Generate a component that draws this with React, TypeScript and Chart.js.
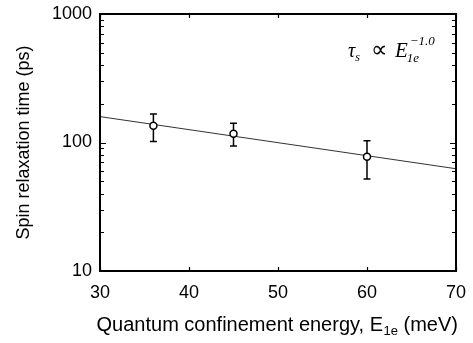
import React, { useEffect, useRef } from "react";
import { Chart, registerables } from "chart.js";

Chart.register(...registerables);

const energies = [36, 45, 60];
const relaxTimes = [135, 117, 77.5];
const errUpper = [167, 141, 103];
const errLower = [102, 94, 52];
const fitX = [30, 70];
const fitY = [159, 62.5];
const yTickValues = [10, 100, 1000];
const xTitleMain = "Quantum confinement energy, E";
const xTitleSub = "1e";
const xTitleTail = " (meV)";
const yTitle = "Spin relaxation time (ps)";

const SANS = "'Liberation Sans', Arial, sans-serif";
const SERIF = "'Liberation Serif', 'Times New Roman', serif";

const decorPlugin = {
  id: "decor",
  beforeDatasetsDraw(chart: any) {
    const ctx = chart.ctx;
    const xs = chart.scales.x;
    const ys = chart.scales.y;
    ctx.save();
    ctx.strokeStyle = "#000";
    ctx.lineWidth = 1.5;
    energies.forEach((e, i) => {
      const px = xs.getPixelForValue(e);
      const top = ys.getPixelForValue(errUpper[i]);
      const bot = ys.getPixelForValue(errLower[i]);
      ctx.beginPath();
      ctx.moveTo(px, top);
      ctx.lineTo(px, bot);
      ctx.moveTo(px - 3.5, top);
      ctx.lineTo(px + 3.5, top);
      ctx.moveTo(px - 3.5, bot);
      ctx.lineTo(px + 3.5, bot);
      ctx.stroke();
    });
    ctx.restore();
  },
  afterDraw(chart: any) {
    const ctx = chart.ctx;
    const a = chart.chartArea;
    const xs = chart.scales.x;
    const ys = chart.scales.y;
    ctx.save();
    ctx.strokeStyle = "#000";
    ctx.lineWidth = 1.2;
    const lmin = Math.log10(ys.min);
    const lmax = Math.log10(ys.max);
    for (let d = Math.floor(lmin); d <= Math.ceil(lmax); d++) {
      for (let k = 1; k <= 9; k++) {
        const v = k * Math.pow(10, d);
        if (v < ys.min || v > ys.max) continue;
        const py = Math.round(ys.getPixelForValue(v)) + 0.5;
        const len = k === 1 ? 6 : 4;
        ctx.beginPath();
        ctx.moveTo(a.left, py);
        ctx.lineTo(a.left + len, py);
        ctx.moveTo(a.right, py);
        ctx.lineTo(a.right - len, py);
        ctx.stroke();
      }
    }
    xs.ticks.forEach((t: any) => {
      const px = Math.round(xs.getPixelForValue(t.value)) + 0.5;
      ctx.beginPath();
      ctx.moveTo(px, a.bottom);
      ctx.lineTo(px, a.bottom - 4);
      ctx.moveTo(px, a.top);
      ctx.lineTo(px, a.top + 4);
      ctx.stroke();
    });
    ctx.lineWidth = 2;
    ctx.strokeRect(a.left, a.top, a.right - a.left, a.bottom - a.top);

    ctx.fillStyle = "#000";
    ctx.textBaseline = "alphabetic";
    ctx.textAlign = "left";
    const big = "20px " + SANS;
    const small = "13px " + SANS;
    ctx.font = big;
    const w1 = ctx.measureText(xTitleMain).width;
    const w3 = ctx.measureText(xTitleTail).width;
    ctx.font = small;
    const w2 = ctx.measureText(xTitleSub).width;
    const total = w1 + w2 + w3;
    const cx = (a.left + a.right) / 2 - 1;
    const x0 = cx - total / 2;
    const base = 331;
    ctx.font = big;
    ctx.fillText(xTitleMain, x0, base);
    ctx.font = small;
    ctx.fillText(xTitleSub, x0 + w1 + 0.5, base + 4);
    ctx.font = big;
    ctx.fillText(xTitleTail, x0 + w1 + w2 + 0.5, base);

    const bx = 348;
    const by = 57;
    ctx.font = "italic 20px " + SERIF;
    ctx.fillText("τ", bx, by);
    const tw = ctx.measureText("τ").width;
    ctx.font = "italic 12px " + SERIF;
    ctx.fillText("s", bx + tw, by + 4);
    ctx.font = "23px " + SERIF;
    ctx.fillText("∝", 371, by);
    ctx.font = "italic 21px " + SERIF;
    const ex = 395;
    ctx.fillText("E", ex, by);
    const ew = ctx.measureText("E").width;
    ctx.font = "italic 13px " + SERIF;
    ctx.fillText("1e", ex + ew - 1, by + 5);
    ctx.fillText("−1.0", ex + ew + 2, by - 12);
    ctx.restore();
  },
};

export default function App() {
  const ref = useRef<HTMLCanvasElement | null>(null);
  useEffect(() => {
    if (!ref.current) return;
    const chart = new Chart(ref.current, {
      type: "scatter",
      data: {
        datasets: [
          {
            label: "data",
            data: energies.map((e, i) => ({ x: e, y: relaxTimes[i] })),
            pointStyle: "circle",
            pointRadius: 3.5,
            pointBackgroundColor: "#fff",
            pointBorderColor: "#000",
            pointBorderWidth: 1.5,
            showLine: false,
          },
          {
            label: "fit",
            data: fitX.map((x, i) => ({ x, y: fitY[i] })),
            showLine: true,
            pointRadius: 0,
            borderColor: "#333",
            borderWidth: 1,
          },
        ],
      },
      options: {
        animation: false,
        responsive: true,
        maintainAspectRatio: false,
        layout: { padding: { top: 14, right: 17, left: 0, bottom: 0 } },
        plugins: { legend: { display: false }, tooltip: { enabled: false } },
        scales: {
          x: {
            type: "linear",
            min: 30,
            max: 70,
            grid: { display: false, drawTicks: false },
            border: { display: false },
            ticks: {
              stepSize: 10,
              padding: 11,
              color: "#000",
              font: { family: SANS, size: 18 },
            },
            afterFit: (s: any) => {
              s.height = 72;
              s.paddingLeft = 0;
              s.paddingRight = 0;
            },
          },
          y: {
            type: "logarithmic",
            min: 10,
            max: 1000,
            grid: { display: false, drawTicks: false },
            border: { display: false },
            afterBuildTicks: (s: any) => {
              s.ticks = yTickValues.map((v) => ({ value: v }));
            },
            ticks: {
              padding: 8,
              color: "#000",
              font: { family: SANS, size: 18 },
              callback: (v: any) => String(v),
            },
            title: {
              display: true,
              text: yTitle,
              color: "#000",
              font: { family: SANS, size: 18 },
              padding: { top: 13, bottom: 0 },
            },
            afterFit: (s: any) => {
              s.width = 100;
              s.paddingTop = 0;
              s.paddingBottom = 0;
            },
          },
        },
      },
      plugins: [decorPlugin],
    });
    return () => chart.destroy();
  }, []);
  return (
    <div style={{ position: "fixed", left: 0, top: 0, width: 473, height: 343, background: "#fff" }}>
      <canvas ref={ref} />
    </div>
  );
}
